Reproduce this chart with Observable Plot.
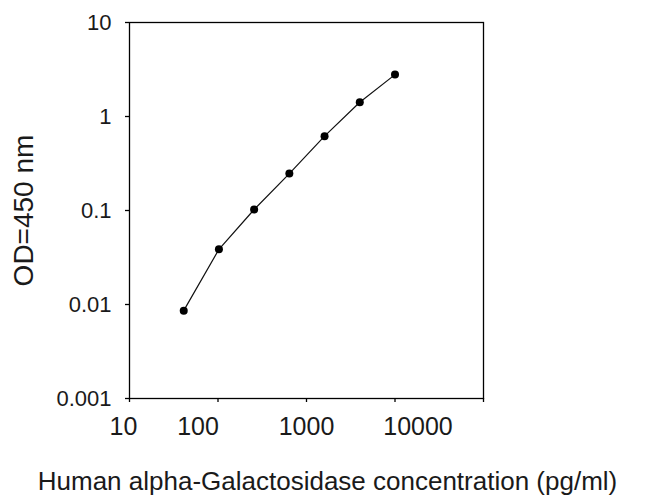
<!DOCTYPE html>
<html>
<head>
<meta charset="utf-8">
<script src="https://cdn.jsdelivr.net/npm/d3@7"></script>
<script src="https://cdn.jsdelivr.net/npm/@observablehq/plot@0.6"></script>
<style>
  html, body { margin: 0; padding: 0; background: #fff; }
  #chart svg { display: block; }
  #chart g[aria-label="y-axis label"] text { font-size: 28px; }
  #xlabel {
    width: 655px; text-align: center;
    font-family: "Liberation Sans", Arial, sans-serif;
    font-size: 26px; line-height: 30px; color: #1a1a1a;
  }
</style>
</head>
<body>
<div id="chart"></div>
<div id="xlabel"></div>
<script>
// Data
const concentration = [41, 102.4, 256, 640, 1600, 4000, 10000]; // pg/ml
const od = [0.0086, 0.0386, 0.1025, 0.247, 0.618, 1.418, 2.79];
const xTicks = [10, 100, 1000, 10000, 100000];
const xTickLabels = ["10", "100", "1000", "10000"];
const yTicks = [0.001, 0.01, 0.1, 1, 10];
const yTickLabels = ["0.001", "0.01", "0.1", "1", "10"];
const xTitle = "Human alpha-Galactosidase concentration (pg/ml)";
const yTitle = "OD=450 nm";

// label nudges (style only) — the reference's x tick labels sit off their ticks
const xLabelShift = [-6, -20, 0, 23];

const data = concentration.map((c, i) => ({c, od: od[i]}));

const xLabelAxes = xTickLabels.map((lab, i) => Plot.axisX({
  ticks: [xTicks[i]],
  tickFormat: () => lab,
  tickSize: 0, tickPadding: 19, fontSize: 25, dx: xLabelShift[i],
  label: null
}));

const plot = Plot.plot({
  width: 649,
  height: 466,
  marginLeft: 129,
  marginRight: 166,
  marginTop: 22,
  marginBottom: 68,
  style: {fontFamily: "'Liberation Sans', Arial, sans-serif", color: "#1a1a1a", background: "#fff", overflow: "visible"},
  x: {type: "log", domain: [10, 100000]},
  y: {type: "log", domain: [0.001, 10]},
  marks: [
    Plot.frame({stroke: "#000", strokeWidth: 1.3}),
    Plot.axisX({
      ticks: xTicks,
      tickFormat: () => "",
      tickSize: 4, stroke: "#000", strokeWidth: 1.3,
      label: null
    }),
    ...xLabelAxes,
    Plot.axisY({
      ticks: yTicks,
      tickFormat: d => yTickLabels[yTicks.indexOf(d)],
      tickSize: 4, tickPadding: 14, fontSize: 22, stroke: "#000", strokeWidth: 1.3,
      label: yTitle, labelAnchor: "center", labelArrow: "none", labelOffset: 116
    }),
    Plot.line(data, {x: "c", y: "od", stroke: "#111", strokeWidth: 1.2}),
    Plot.dot(data, {x: "c", y: "od", r: 4, fill: "#000", stroke: "none"})
  ]
});
document.getElementById("chart").appendChild(plot);
document.getElementById("xlabel").textContent = xTitle;
</script>
</body>
</html>
